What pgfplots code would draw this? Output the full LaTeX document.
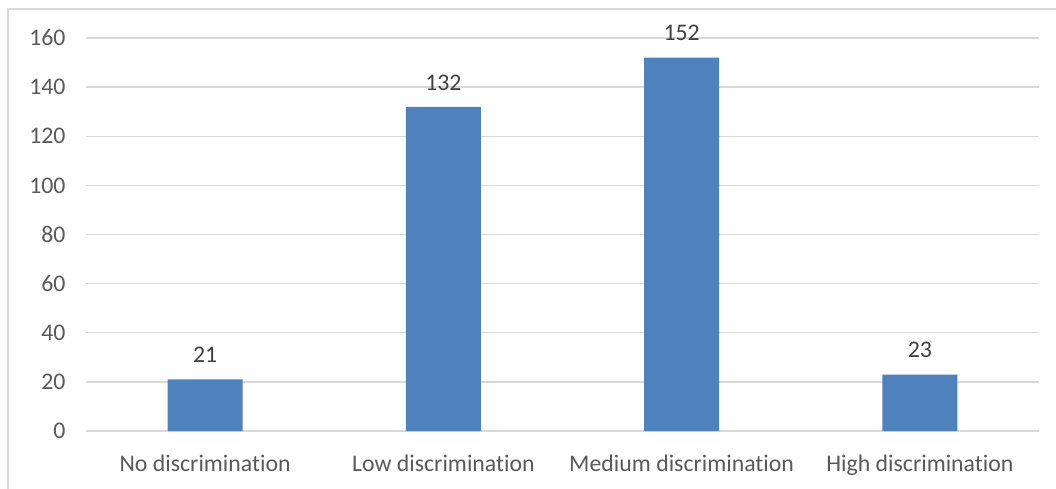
\documentclass[border=0pt]{standalone}
\usepackage{pgfplots}
\pgfplotsset{compat=1.18}
\usepackage{fontspec}
\setmainfont[RawFeature={-liga}]{Carlito}

\definecolor{barblue}{RGB}{79,129,189}
\definecolor{gridgray}{RGB}{217,217,217}
\definecolor{ticktext}{RGB}{89,89,89}
\definecolor{labeltext}{RGB}{64,64,64}

\begin{document}
\begin{tikzpicture}[x=1pt,y=1pt]
  \useasboundingbox (0,0) rectangle (1056,488);
  % chart area frame (left and top edges visible)
  \draw[gridgray, line width=1.5pt] (8,-5) -- (8,479) -- (1061,479);
  \begin{axis}[
    at={(86pt,57pt)}, anchor=south west,
    scale only axis,
    width=953pt, height=393pt,
    xmin=-0.5, xmax=3.5,
    ymin=0, ymax=160,
    ytick={0,20,...,160},
    xtick=data,
    xticklabels={No discrimination, Low discrimination, Medium discrimination, High discrimination},
    axis line style={draw=none},
    major tick length=0pt,
    ymajorgrids,
    grid style={gridgray, line width=1.3pt},
    tick label style={font=\fontsize{23.8}{28}\selectfont, text=ticktext},
    yticklabel style={xshift=-17pt},
    xticklabel style={yshift=-20pt},
    /pgf/number format/assume math mode=true,
    ybar, bar width=75pt,
    nodes near coords,
    every node near coord/.append style={font=\fontsize{23.8}{28}\selectfont, text=labeltext, yshift=13pt},
    clip=false,
  ]
    \addplot[fill=barblue, draw=none] coordinates {(0,21) (1,132) (2,152) (3,23)};
  \end{axis}
\end{tikzpicture}
\end{document}
